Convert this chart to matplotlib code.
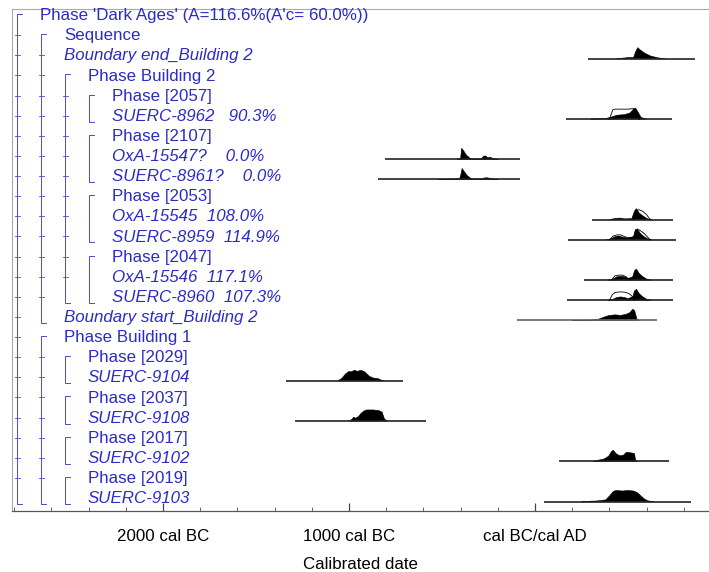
import matplotlib
matplotlib.use('Agg')
import matplotlib.pyplot as plt
import matplotlib.transforms as mtransforms
from matplotlib.ticker import FixedLocator, MultipleLocator

plt.rcParams['font.family'] = ['Liberation Sans', 'DejaVu Sans']

# row labels, nesting depth and italic flag (dates / boundaries are italic)
labels = [
    "Phase 'Dark Ages' (A=116.6%(A'c= 60.0%))",
    "Sequence",
    "Boundary end_Building 2",
    "Phase Building 2",
    "Phase [2057]",
    "SUERC-8962   90.3%",
    "Phase [2107]",
    "OxA-15547?    0.0%",
    "SUERC-8961?    0.0%",
    "Phase [2053]",
    "OxA-15545  108.0%",
    "SUERC-8959  114.9%",
    "Phase [2047]",
    "OxA-15546  117.1%",
    "SUERC-8960  107.3%",
    "Boundary start_Building 2",
    "Phase Building 1",
    "Phase [2029]",
    "SUERC-9104",
    "Phase [2037]",
    "SUERC-9108",
    "Phase [2017]",
    "SUERC-9102",
    "Phase [2019]",
    "SUERC-9103",
]
depth = [0, 1, 1, 2, 3, 3, 3, 3, 3, 3, 3, 3, 3, 3, 3, 1, 1, 2, 2, 2, 2, 2, 2, 2, 2]
italic = [0, 0, 1, 0, 0, 1, 0, 1, 1, 0, 1, 1, 0, 1, 1, 1, 0, 0, 1, 0, 1, 0, 1, 0, 1]

# (level, first row, last row)
brackets = [(0, 0, 24), (1, 1, 15), (1, 16, 24), (2, 3, 14), (2, 17, 18),
            (2, 19, 20), (2, 21, 22), (2, 23, 24), (3, 4, 5), (3, 6, 8),
            (3, 9, 11), (3, 12, 14)]

# distributions: years (BC negative) and relative heights
be_range = (285, 860)
be_yr = [440, 470, 500, 530, 540, 552, 565, 590, 620, 660, 700]
be_p = [0, 0.05, 0.1, 0.12, 0.6, 1.0, 0.8, 0.5, 0.25, 0.08, 0]

s8962_range = (167, 737)
s8962_yr = [300, 380, 414, 440, 480, 510, 530, 540, 555, 570, 600]
s8962_p = [0, 0.05, 0.2, 0.35, 0.4, 0.55, 0.9, 1.0, 0.6, 0.15, 0]
s8962_pr_yr = [400, 418, 430, 500, 530, 545, 560]
s8962_pr_p = [0, 0.85, 0.9, 0.9, 0.95, 0.3, 0]

o15547_range = (-806, -80)
o15547_yr = [-420, -400, -395, -385, -370, -350, -330, -290, -275, -265, -255, -240, -225, -200]
o15547_p = [0, 0.1, 1.0, 0.8, 0.4, 0.1, 0.03, 0.05, 0.3, 0.3, 0.15, 0.2, 0.05, 0]

s8961_range = (-844, -80)
s8961_yr = [-520, -480, -430, -405, -398, -392, -380, -365, -345, -320, -285, -270, -255, -240, -220, -200]
s8961_p = [0, 0.03, 0.05, 0.1, 0.5, 1.0, 0.7, 0.35, 0.1, 0.03, 0.05, 0.15, 0.15, 0.1, 0.03, 0]

o15545_range = (306, 742)
o15545_yr = [400, 430, 460, 480, 520, 535, 545, 560, 580, 600, 620]
o15545_p = [0, 0.12, 0.15, 0.08, 0.1, 0.8, 1.0, 0.6, 0.35, 0.12, 0]
o15545_pr_yr = [530, 540, 560, 580, 600, 615, 625]
o15545_pr_p = [0, 0.85, 0.9, 0.75, 0.45, 0.1, 0]

s8959_range = (177, 758)
s8959_yr = [380, 410, 430, 450, 470, 500, 530, 540, 550, 565, 585, 605, 630]
s8959_p = [0, 0.1, 0.3, 0.35, 0.25, 0.15, 0.3, 0.9, 1.0, 0.6, 0.3, 0.1, 0]
s8959_pr_yr = [400, 420, 440, 460, 480, 500, 530, 540, 560, 585, 605, 620]
s8959_pr_p = [0, 0.35, 0.45, 0.45, 0.3, 0.2, 0.25, 0.9, 0.9, 0.6, 0.25, 0]

o15546_range = (263, 742)
o15546_yr = [390, 420, 440, 460, 480, 500, 525, 535, 545, 560, 580, 600, 625]
o15546_p = [0, 0.1, 0.3, 0.35, 0.3, 0.15, 0.3, 0.85, 1.0, 0.6, 0.3, 0.1, 0]
o15546_pr_yr = [410, 430, 450, 470, 490, 510]
o15546_pr_p = [0, 0.4, 0.45, 0.45, 0.3, 0]

s8960_range = (172, 742)
s8960_yr = [390, 420, 440, 460, 480, 500, 525, 535, 545, 560, 580, 600, 625]
s8960_p = [0, 0.1, 0.25, 0.3, 0.25, 0.15, 0.3, 0.85, 1.0, 0.6, 0.3, 0.1, 0]
s8960_pr_yr = [400, 415, 430, 450, 470, 490, 510, 525, 535]
s8960_pr_p = [0, 0.5, 0.7, 0.75, 0.75, 0.7, 0.55, 0.3, 0]

bs_range = (-97, 656)
bs_yr = [200, 300, 340, 380, 400, 430, 460, 490, 510, 525, 535, 548, 560]
bs_p = [0, 0.03, 0.1, 0.35, 0.45, 0.5, 0.45, 0.55, 0.7, 1.0, 0.9, 0.1, 0]

s9104_range = (-1339, -710)
s9104_yr = [-1060, -1040, -1020, -1000, -990, -970, -955, -935, -915, -890, -870, -845, -825, -810]
s9104_p = [0, 0.2, 0.6, 0.85, 0.8, 0.95, 0.85, 0.95, 0.8, 0.4, 0.25, 0.2, 0.05, 0]

s9108_range = (-1290, -586)
s9108_yr = [-1000, -985, -975, -965, -950, -935, -920, -905, -870, -840, -822, -810, -795]
s9108_p = [0, 0.15, 0.35, 0.25, 0.4, 0.7, 0.9, 1.0, 1.0, 0.95, 0.8, 0.2, 0]

s9102_range = (129, 720)
s9102_yr = [310, 340, 370, 395, 410, 420, 435, 455, 475, 490, 500, 520, 535, 540, 550]
s9102_p = [0, 0.1, 0.2, 0.45, 0.85, 1.0, 0.7, 0.5, 0.55, 0.8, 0.8, 0.75, 0.7, 0.1, 0]

s9103_range = (48, 839)
s9103_yr = [250, 330, 380, 400, 420, 435, 470, 500, 530, 550, 570, 590, 610, 640]
s9103_p = [0, 0.05, 0.15, 0.5, 0.9, 1.0, 0.95, 1.0, 0.95, 0.8, 0.5, 0.2, 0.05, 0]

dists = [
    (2, be_range, be_yr, be_p, None, None),
    (5, s8962_range, s8962_yr, s8962_p, s8962_pr_yr, s8962_pr_p),
    (7, o15547_range, o15547_yr, o15547_p, None, None),
    (8, s8961_range, s8961_yr, s8961_p, None, None),
    (10, o15545_range, o15545_yr, o15545_p, o15545_pr_yr, o15545_pr_p),
    (11, s8959_range, s8959_yr, s8959_p, s8959_pr_yr, s8959_pr_p),
    (13, o15546_range, o15546_yr, o15546_p, o15546_pr_yr, o15546_pr_p),
    (14, s8960_range, s8960_yr, s8960_p, s8960_pr_yr, s8960_pr_p),
    (15, bs_range, bs_yr, bs_p, None, None),
    (18, s9104_range, s9104_yr, s9104_p, None, None),
    (20, s9108_range, s9108_yr, s9108_p, None, None),
    (22, s9102_range, s9102_yr, s9102_p, None, None),
    (24, s9103_range, s9103_yr, s9103_p, None, None),
]

fig = plt.figure(figsize=(7.09, 5.72), dpi=100)
ax = fig.add_axes([12 / 709, 1 - 511 / 572, 697 / 709, 502 / 572])

x0, x1 = -2812, 935
ax.set_xlim(x0, x1)
ax.set_ylim(24.64, -0.30)

blue = '#2b2bc8'
lblue = '#4a4ad0'
fs = 12.2
trans = mtransforms.blended_transform_factory(ax.transAxes, ax.transData)


def px(p):
    # pixel column of the figure -> axes fraction
    return (p - 12) / 697.0


# labels
for i, lab in enumerate(labels):
    ax.text(px(40 + 24 * depth[i]), i + 0.03, lab, transform=trans, color=blue,
            fontsize=fs, va='center', ha='left',
            style='italic' if italic[i] else 'normal')

# nesting brackets
stub = 5 / 697.0
tk = 2.5 / 697.0
for lev, r0, r1 in brackets:
    bx = px(17 + 24 * lev)
    yt, yb = r0 - 0.05, r1 + 0.3
    ax.plot([bx + stub, bx, bx, bx + stub], [yt, yt, yb, yb], transform=trans,
            color=lblue, lw=0.7, solid_joinstyle='miter')
    if lev < 3:
        for r in range(r0 + 1, r1):
            ax.plot([bx - tk, bx + tk], [r, r], transform=trans, color=lblue, lw=0.6)

# distributions
base = 0.17
hs = 0.55
for row, rng, yr, p, pyr, pp in dists:
    yb = row + base
    col = '#666666' if row == 15 else '#222222'
    ax.plot(rng, [yb, yb], color=col, lw=1.2, solid_capstyle='butt')
    ax.fill(yr, [yb - v * hs for v in p], color='black', lw=0.4)
    if pyr is not None:
        ax.plot(pyr, [yb - v * hs for v in pp], color='black', lw=0.6)

# axes frame
for s in ['left', 'top']:
    ax.spines[s].set_color('#aaaaaa')
    ax.spines[s].set_linewidth(0.8)
ax.spines['right'].set_visible(False)
ax.spines['bottom'].set_color('#555555')
ax.spines['bottom'].set_linewidth(0.9)

ax.xaxis.set_major_locator(FixedLocator([-2000, -1000, 0]))
ax.xaxis.set_minor_locator(MultipleLocator(200))
ax.set_xticklabels(['2000 cal BC', '1000 cal BC', 'cal BC/cal AD'])
ax.tick_params(axis='x', which='major', direction='in', length=6, width=0.9,
               color='#444444', pad=13, labelsize=fs)
ax.tick_params(axis='x', which='minor', direction='in', length=3, width=0.7,
               color='#666666')
ax.set_yticks([])
ax.set_xlabel('Calibrated date', fontsize=fs, labelpad=9)

fig.savefig('out.png', dpi=100)
